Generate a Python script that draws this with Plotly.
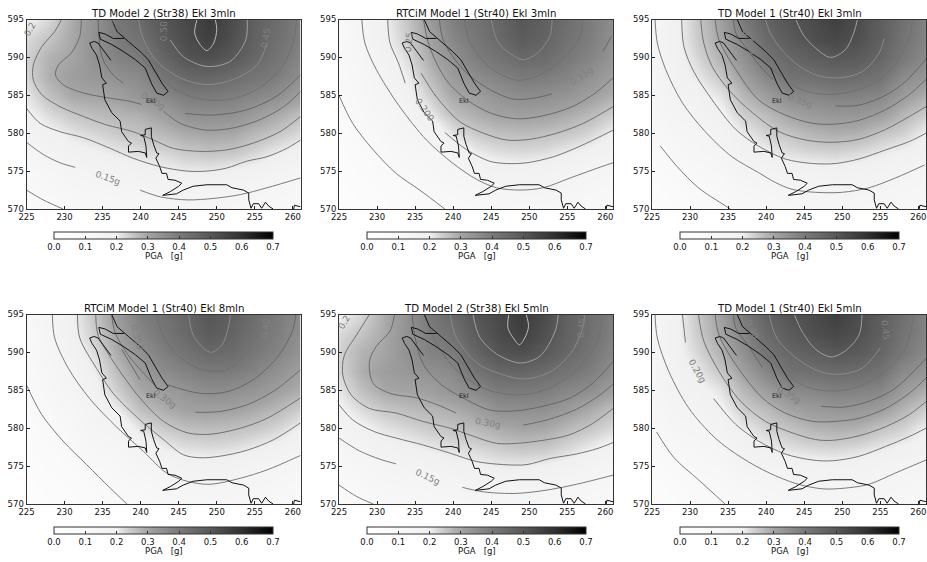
import plotly.graph_objects as go

W, H = 927, 562
TITLES = ["TD Model 2 (Str38) Ekl 3mln", "RTCiM Model 1 (Str40) Ekl 3mln", "TD Model 1 (Str40) Ekl 3mln",
          "RTCiM Model 1 (Str40) Ekl 8mln", "TD Model 2 (Str38) Ekl 5mln", "TD Model 1 (Str40) Ekl 5mln"]
GRID_X = [225, 228, 231, 234, 237, 240, 243, 246, 249, 252, 255, 258, 261]
GRID_Y = [570, 572.5, 575, 577.5, 580, 582.5, 585, 587.5, 590, 592.5, 595]

# PGA, one list per x column (bottom to top)
PGA_TD2 = [
 [.08,.10,.12,.14,.17,.19,.21,.23,.235,.225,.195],
 [.095,.12,.135,.165,.19,.225,.26,.285,.28,.255,.23],
 [.115,.135,.155,.185,.215,.25,.295,.315,.30,.295,.29],
 [.12,.14,.165,.195,.23,.265,.30,.33,.345,.345,.345],
 [.125,.145,.175,.21,.245,.275,.31,.345,.38,.395,.405],
 [.13,.155,.185,.22,.255,.285,.335,.365,.395,.425,.45],
 [.135,.16,.195,.23,.27,.31,.365,.415,.46,.49,.505],
 [.14,.165,.205,.245,.29,.345,.395,.455,.51,.53,.54],
 [.14,.165,.205,.255,.30,.35,.40,.46,.52,.56,.57],
 [.13,.155,.195,.25,.295,.345,.39,.44,.495,.52,.53],
 [.125,.145,.185,.23,.27,.32,.37,.415,.455,.47,.475],
 [.115,.135,.165,.205,.25,.29,.35,.39,.415,.43,.435],
 [.105,.125,.15,.185,.225,.26,.31,.35,.37,.385,.39]]
PGA_TD1 = [
 [.05,.065,.08,.095,.115,.13,.14,.145,.145,.145,.145],
 [.07,.085,.10,.12,.14,.155,.17,.18,.185,.19,.19],
 [.09,.105,.12,.135,.145,.165,.185,.21,.23,.245,.25],
 [.10,.115,.13,.15,.17,.19,.215,.25,.28,.30,.31],
 [.115,.13,.16,.18,.205,.24,.27,.31,.345,.375,.40],
 [.125,.14,.17,.20,.235,.265,.315,.37,.415,.445,.47],
 [.135,.15,.175,.22,.255,.30,.36,.42,.455,.49,.51],
 [.14,.155,.18,.23,.275,.32,.37,.43,.48,.52,.53],
 [.14,.155,.185,.235,.285,.33,.385,.445,.50,.54,.56],
 [.135,.155,.18,.225,.28,.33,.38,.44,.49,.52,.53],
 [.13,.15,.17,.21,.255,.315,.37,.42,.46,.48,.485],
 [.12,.14,.16,.195,.235,.275,.32,.36,.405,.42,.43],
 [.115,.13,.15,.18,.20,.24,.285,.335,.36,.375,.38]]
PGA_RTC = [
 [.04,.05,.06,.07,.08,.09,.10,.105,.11,.115,.115],
 [.055,.065,.08,.09,.105,.115,.125,.13,.14,.145,.15],
 [.07,.08,.095,.11,.125,.135,.15,.165,.18,.195,.20],
 [.085,.095,.115,.13,.15,.165,.19,.205,.225,.245,.255],
 [.095,.11,.125,.14,.16,.205,.24,.265,.29,.305,.32],
 [.105,.12,.145,.165,.215,.26,.295,.32,.345,.37,.39],
 [.115,.135,.155,.205,.245,.285,.315,.355,.39,.41,.42],
 [.125,.15,.18,.22,.26,.305,.34,.38,.42,.45,.46],
 [.13,.155,.18,.225,.265,.31,.355,.40,.45,.49,.50],
 [.13,.155,.175,.22,.26,.305,.35,.395,.44,.465,.475],
 [.12,.145,.165,.205,.25,.29,.335,.375,.405,.425,.435],
 [.11,.13,.15,.19,.23,.27,.31,.345,.375,.39,.395],
 [.10,.12,.14,.17,.20,.24,.285,.31,.335,.35,.355]]
PANEL_PGA = [PGA_TD2, PGA_RTC, PGA_TD1, PGA_RTC, PGA_TD2, PGA_TD1]

# coastline, km grid coordinates
COAST_A = [(236.2,595),(236.9,593.4),(238.4,592.1),(239.9,590.8),(241,589.7),(241.9,588.1),(242.8,586.6),(243.6,585.5),
           (243,585),(242.1,585.3),(241.4,586.6),(240.6,588.6),(239.3,589.7),(237.7,590.8),(236.2,591.7),(234.7,592.4),
           (234.5,593.3),(235.3,593.1),(236.4,592.5),(237.8,592.5)]
COAST_B = [(236.1,589.6),(235.6,590.3),(235,591.2),(234.4,591.9),(233.9,592.1),(233.3,591.9),(233.6,591.2),(234.2,590.3),
           (234.6,589),(234.9,587.3),(235.5,586.6),(235,586.4),(235.3,584.4),(236.2,582.7),(237.3,581.6),(237.5,580.2),
           (238.4,578.9),(238.8,578.7),(238.4,578.3),(238.4,577.5),(239.7,577.6),(240.6,577.4),(240.8,576.8)]
COAST_C = [(240.8,576.8),(240.7,578.3),(240.4,579.6),(240,579.7),(240.6,579.8),(240.6,580.5),(241.4,580.7),(241.4,579.6),
           (241.7,578.5),(242.1,577.4),(242.4,577.3),(242,576.7),(242.5,575.6),(242.8,574.7),(243.4,574.7),(243.6,573.9),
           (244.5,573.8),(245.4,573.4),(245,573),(243.9,572.3),(242.9,571.8),(244.7,572),(245.6,572.5),(246.9,573),
           (248.7,573.2),(251.3,573.2),(252,572.8),(253.5,572.5),(254.2,572.1),(254.2,571.2),(254.5,570.1),(254.8,570.7),
           (255.5,570.7),(255.9,570.1),(256.4,570.9),(256.8,570.4),(257.4,570)]
COAST_D = [(260.1,570),(260.2,570.5),(261,570.3)]
COASTS = [COAST_A, COAST_B, COAST_C, COAST_D]

# contours: (PGA level, points)
CONT_1 = [
 (.10,[(225,572.5),(227.2,571.2),(229.8,570)]),
 (.15,[(225,578.8),(227.2,577.2),(229.4,576.1),(231.4,575.5)]),
 (.15,[(239.9,572.5),(242.6,571.6),(246.1,571.2),(249.6,571.4),(253.1,571.9),(256.6,572.8),(261,574.1)]),
 (.20,[(225,583.3),(226.8,581.3),(229.4,580.2),(232.5,579.4),(236,578),(239,576.7),(242.5,575.6),(246.1,575),(248.7,575),(251.3,575.4),(253.9,576.3),(256.6,576.9),(259.2,578),(261,579.1)]),
 (.25,[(229.6,595),(228.7,593.4),(227,591.4),(225.9,589),(225.9,587),(227,585.1),(229.4,583.5),(232.5,582.2),(235.5,581.1),(239,580.2),(241.7,579.1),(244.3,578),(247.8,577.6),(251.3,577.8),(254.8,578.7),(258.3,580.2),(261,582.2)]),
 (.30,[(232.2,595),(232,592.8),(230.9,590.6),(229.2,589),(228.8,587.7),(229.8,586.4),(232.5,585.3),(235.5,584.7),(238.6,584.2),(240.1,583.8)]),
 (.30,[(243,582.9),(245.2,581.3),(248.7,580.4),(252.2,580.7),(255.7,581.8),(258.8,583.5),(261,585.5)]),
 (.35,[(234.4,595),(234.9,590.1),(236.2,587.9),(237.7,586.6)]),
 (.35,[(245.8,582.6),(249.6,582.4),(254,583.1),(257.9,584.9),(261,587.7)]),
 (.40,[(236.6,595),(238.2,592.1),(241,589),(243.9,586.2),(247.4,584.6),(251.3,584.4),(254.8,585.5),(257.9,587.9),(259.9,591.4),(260.5,595)]),
 (.45,[(239.7,595),(240.4,592.3),(242.1,589.5),(245.2,587.3),(248.7,586.4),(252.2,587.1),(255.3,589),(256.6,591.9)]),
 (.50,[(243.9,592.3),(245.6,590.1),(248.7,588.8),(251.8,589.5),(253.8,592.3),(254,595)]),
 (.55,[(247.4,595),(247.1,593.2),(247.8,591.7),(248.7,590.9),(249.6,591.9),(250,593.7),(249.8,595)]),
]
CONT_2 = [
 (.10,[(225,585),(226.8,581.3),(229.5,577.8),(232.5,574.7),(235.6,572.5),(238.9,570)]),
 (.15,[(228,595),(228.4,591.9),(229.9,588.4),(232.9,583.6),(236.5,579.1),(240,576),(243.1,573.9),(245.7,572.8),(248.8,572.5),(251.8,572.8),(255.4,574.1),(258.4,575.2),(261,576.1)]),
 (.20,[(231.4,595),(231.7,591.9),(232.8,589.3),(233.7,586.6)]),
 (.20,[(238.9,580.1),(241.8,577.8),(244.8,576.3),(247,576),(249.7,576.1),(253.2,576.9),(256.7,578.3),(261,580.4)]),
 (.25,[(235.8,587.9),(237.8,584.8),(240.9,581.5),(244,580),(247,579.1),(250.1,579.2),(253.6,580),(257.1,581.3),(261,583.5)]),
 (.30,[(236.1,595),(236.9,591.4),(239.1,587),(241.8,584.4),(244.8,582.7),(248.3,581.9),(251.8,582.3),(255.4,583.4),(258.4,585.1),(261,587.3)]),
 (.35,[(238.2,595),(238.7,592.3),(241.3,588.4),(244.4,586),(247.9,584.5),(251,584.7),(253,585.2)]),
 (.35,[(259.7,590.8),(260.8,592.8)]),
 (.40,[(241.5,595),(242.2,592),(244.8,588.7),(248.3,587),(251.4,587.7),(254.5,589.9),(256.7,592.8),(257,595)]),
 (.45,[(245,595),(245.9,592),(247.5,590.5),(249.2,589.7),(251,590.5),(252.7,592.8),(253,595)]),
]
CONT_3 = [
 (.10,[(226.1,578.3),(228.3,575.6),(231.1,572.8),(234.2,570.7),(235.3,570)]),
 (.15,[(225.4,595),(225.7,591.9),(226.8,588.4),(229,584),(232,580.2),(235.5,576.9),(239,574.8),(241.2,573.5),(243.4,572.6),(246.5,572.2),(250,572.2),(253.5,572.8),(257,574.1),(260.8,575.8)]),
 (.20,[(228.9,595),(229.2,591.4),(230.5,588.1),(232.9,584.4),(236,580.5),(239,578.3),(242.5,576.6),(246.1,576),(249.1,576),(252.2,576.6),(255.7,577.8),(258.8,578.9),(261,580)]),
 (.25,[(231.4,595),(231.8,591.9),(232.9,588.8),(235.1,585.7),(238.2,582.7),(241.7,580.2),(245.2,579.1),(248.7,578.8),(252.2,579.2),(255.7,580.5),(258.8,582.2),(261,583.5)]),
 (.30,[(233.3,595),(233.8,592.3),(236,588.4),(239,584.4),(242.5,582.4),(246.1,581.3),(249.1,581.2),(252.2,581.7),(255.7,583.1),(258.8,585.1),(261,587.1)]),
 (.35,[(235.7,595),(236,593.2),(237.5,591.1),(239.5,588.5),(240.9,587.1)]),
 (.35,[(249.1,583.6),(252.2,583.7),(255.7,585),(258.4,586.9),(261,589.8)]),
 (.40,[(239,590.1),(241.2,588.1),(244.3,585.9),(247.8,585.1),(251.3,585.5),(254.8,587),(257.5,589.9),(259,593.2),(259.2,595)]),
 (.45,[(239.9,595),(240.8,592.7),(243.4,589.6),(246.5,587.7),(249.6,587.3),(252.6,588.1),(254.8,590.5),(255.5,592.5)]),
 (.50,[(243.9,595),(245,592.8),(247,590.8),(248.5,590),(250.4,591),(251.5,593.2),(252,595)]),
]
CONT_4 = [
 (.10,[(225,585.7),(227,581.8),(229.8,578.3),(232.9,575.2),(236,572.1),(238.2,570)]),
 (.15,[(228.4,595),(228.7,591.9),(230.5,587.9),(233.3,583.9),(236.8,580.2),(240.4,576.9),(243.4,574.1),(246.1,573),(249.1,572.6),(253.1,573.4),(256.6,574.5),(261,576.4)]),
 (.20,[(231.7,595),(232,591.9),(234.2,587.9),(236.4,584.6),(239.9,581.1),(243,578.5),(245.6,576.5),(247.8,576.1),(250.4,576.3),(254,577.1),(257.5,578.5),(261,580.7)]),
 (.25,[(234.1,595),(234.4,592.3),(236.4,588.8),(239.9,584),(243,580.9),(246.1,579.4),(249.1,579.2),(253.1,580),(256.6,581.3),(261,584)]),
 (.30,[(236.2,595),(236.6,592.7),(238.4,589.6),(241.9,585.6)]),
 (.30,[(247.2,582.1),(250.4,582.2),(254,583.1),(257.5,584.9),(261,587.7)]),
 (.35,[(237.5,590.4),(239.9,586.4)]),
 (.35,[(243.6,585.7),(247.8,584.6),(251.3,584.8),(254.8,586.4),(257.9,589.3),(259.9,592.7),(260.4,595)]),
 (.40,[(242.1,595),(243,592.1),(245.2,589.3),(248.2,587.7),(251.3,587.7),(254,590.1),(255.5,592.7)]),
 (.45,[(246.3,595),(246.9,592.3),(248.2,590.6),(249.3,590),(250.7,591),(251.5,593.2),(251.8,595)]),
]
CONT_5 = [
 (.10,[(225,572.5),(227.3,571),(229.5,570)]),
 (.15,[(225,578.7),(227.7,577),(230.4,575.9),(232.5,575.3)]),
 (.15,[(241.2,572.2),(244,571.6),(248.4,571.4),(252.7,571.9),(256.2,572.6),(261,573.8)]),
 (.20,[(225,583.1),(226.8,581.1),(229.5,579.6),(232.5,578.7),(236,577.8),(239.6,576.7),(243.1,575.6),(246.6,575.2),(249.7,575.2),(252.7,576),(256.2,576.6),(258.9,577.3),(261,578.1)]),
 (.25,[(229,595),(227.3,592.3),(225.7,589.6),(225.5,587),(226.6,584.4),(229,582.6),(232.5,582),(236,580.9),(239.6,580),(242.2,579.1),(245.7,578),(248.3,578),(251.8,578.4),(255.2,579.1),(258.3,580.6),(261,582.6)]),
 (.30,[(232.3,595),(231.7,592.8),(229.9,590.8),(229,588.8),(229.5,585.9),(231.7,584.6),(235.2,584),(237.9,583.1),(240.4,582)]),
 (.30,[(249.2,580.4),(252.7,581.2),(256.2,582.5),(258.9,584.1),(261,585.8)]),
 (.35,[(234.6,595),(235,591.9),(236.1,588.4),(238.5,585.7),(241.3,584),(244.8,582.4),(248.3,582.3),(251.8,582.9),(255.4,584),(258.4,586),(261,588.8)]),
 (.40,[(236.3,595),(237.6,591.5),(240.4,587.7),(244.4,585.1),(248.8,584.4),(252.7,585.3),(256.2,587.7),(258.9,591.4),(259.6,595)]),
 (.45,[(239.6,595),(240.4,592),(243.1,588.6),(246.1,587.2),(249.2,586.5),(252.7,587.4),(255.4,589.8),(256.9,592.8),(257.3,595)]),
 (.50,[(242.6,595),(243.5,592),(245.7,589.8),(248.8,588.6),(251.4,589.5),(253.4,592.8),(253.8,595)]),
 (.55,[(247.3,595),(247.2,593.2),(247.9,591.9),(248.7,591),(249.4,591.9),(249.9,593.4),(249.6,595)]),
]
CONT_6 = [
 (.10,[(225.6,579.5),(227.9,576.1),(231.1,573.2),(234.6,570)]),
 (.15,[(225.4,595),(225.7,591.9),(227.2,587.5),(229.8,582.7),(233.3,578.7),(236.8,576.1),(240.4,574.1),(243.9,572.7),(247.4,572),(250.4,572.1),(253.5,572.6),(257,574.1),(261,575.8)]),
 (.20,[(229,595),(229.4,591.3)]),
 (.20,[(233.1,583.9),(236,580.5),(239,578.3),(242.5,576.6),(246.1,575.8),(248.7,575.7),(252.2,576.3),(255.7,577.6),(258.8,578.9),(261,580)]),
 (.25,[(231.1,595),(231.8,591.5),(233.8,587.5),(236.6,583.6),(239.9,580.9),(243.4,579.4),(246.5,578.5),(248.7,578.4),(252.2,579),(255.7,580.2),(258.8,581.8),(261,583.5)]),
 (.30,[(233.3,595),(233.8,592.3),(236,588.4),(239.5,584),(242.5,582),(246.1,580.9),(249.1,580.9),(252.2,581.3),(255.7,582.6),(258.8,584.6),(261,586.6)]),
 (.35,[(235.7,595),(236,593.2),(237.5,591.1),(239.5,588)]),
 (.35,[(247.2,582.9),(250.4,582.8),(253.9,583.7),(257,585.3),(261,589.2)]),
 (.40,[(239.3,590.6),(241.7,588),(245.2,585.5),(248.7,584.9),(252.2,585.5),(255.7,587.5),(258.3,590.6),(259.4,595)]),
 (.45,[(240.4,595),(241.4,591.9),(243.9,589.3),(247,587.5),(249.6,587.1),(252.6,587.9),(255,590.6)]),
 (.50,[(243.7,595),(244.7,592.8),(246.5,590.4),(248.5,589.4),(250.4,590.2),(252.2,592.3),(252.6,595)]),
]
PANEL_CONT = [CONT_1, CONT_2, CONT_3, CONT_4, CONT_5, CONT_6]

# inline contour labels: text, x, y, angle
LABELS_1 = [("0.15g",235.7,574.1,20),("0.30g",241.6,584.2,30),("0.50",243,593.4,-90),("0.2",225.5,593.7,-60),("0.45",256.4,592.6,-80),("0.3",236.4,594,-70)]
LABELS_2 = [("0.35g",256.9,587.5,-35),("0.200",236.3,583.1,55),("0.25",234.2,592,-85)]
LABELS_3 = [("0.35g",244.5,584.2,20),("0.40g",237.9,592,65)]
LABELS_4 = [("0.350",239.5,592,75),("0.30g",243.2,583.9,35),("0.40",256.4,593.2,-85)]
LABELS_5 = [("0.30g",244.6,580.7,10),("0.15g",236.7,573.6,25),("0.2",225.7,594,-60),("0.45",256.9,593.2,-85)]
LABELS_6 = [("0.20g",230.9,587.5,60),("0.35g",243,584.4,30),("0.40",238.2,593,65),("0.45",255.7,593,85)]
PANEL_LABELS = [LABELS_1, LABELS_2, LABELS_3, LABELS_4, LABELS_5, LABELS_6]

CONT_GREY = {.10:"#7a7a7a",.15:"#7a7a7a",.20:"#757575",.25:"#707070",.30:"#6a6a6a",.35:"#666666",.40:"#707070",.45:"#8a8a8a",.50:"#a0a0a0",.55:"#bbbbbb"}
COLORSCALE = [[0,"#ffffff"],[.1/.7,"#f9f9f9"],[.20/.7,"#f0f0f0"],[.24/.7,"#cecece"],[.3/.7,"#a4a4a4"],[.4/.7,"#7a7a7a"],[.5/.7,"#585858"],[.6/.7,"#303030"],[1,"#000000"]]

PX_LEFT = [26.5, 339, 652]
PX_TOP = [19.5, 314.5]
PW, PH = 274, 189.5
CB_LEFT = [54, 367, 680]
CB_TOP = [232, 527]
CB_W = 219
TEXT = "#111111"
FONT = "DejaVu Sans"

fig = go.Figure()
layout = dict(width=W, height=H, margin=dict(l=0, r=0, t=0, b=0, autoexpand=False), paper_bgcolor="white", plot_bgcolor="white",
              showlegend=False, font=dict(family=FONT, size=8.5, color=TEXT), annotations=[])
for i in range(6):
    col, row = i % 3, i // 3
    sfx = "" if i == 0 else str(i + 1)
    xa, ya = "x" + sfx, "y" + sfx
    left, top = PX_LEFT[col], PX_TOP[row]
    layout["xaxis" + sfx] = dict(domain=[left / W, (left + PW) / W], range=[225, 261], anchor=ya, tickvals=list(range(225, 261, 5)),
                                 ticks="inside", ticklen=3, tickcolor="#222", tickfont=dict(size=8.5, family=FONT, color=TEXT),
                                 showgrid=False, zeroline=False, showline=True, mirror=True, linecolor="#333", linewidth=1)
    layout["yaxis" + sfx] = dict(domain=[1 - (top + PH) / H, 1 - top / H], range=[570, 595], anchor=xa, tickvals=list(range(570, 600, 5)),
                                 ticks="inside", ticklen=3, tickcolor="#222", tickfont=dict(size=8.5, family=FONT, color=TEXT),
                                 showgrid=False, zeroline=False, showline=True, mirror=True, linecolor="#333", linewidth=1)
    z = [list(r) for r in zip(*PANEL_PGA[i])]
    fig.add_trace(go.Heatmap(x=GRID_X, y=GRID_Y, z=z, xaxis=xa, yaxis=ya, zmin=0, zmax=0.7, zsmooth="best",
                             colorscale=COLORSCALE, hoverinfo="skip",
                             colorbar=dict(orientation="h", x=CB_LEFT[col] / W, xanchor="left", y=1 - CB_TOP[row] / H, yanchor="top",
                                           len=CB_W, lenmode="pixels", thickness=7, thicknessmode="pixels", xpad=0, ypad=0,
                                           tickvals=[0, .1, .2, .3, .4, .5, .6, .7], ticktext=["0.0", "0.1", "0.2", "0.3", "0.4", "0.5", "0.6", "0.7"],
                                           ticks="inside", ticklen=3, tickcolor="#333", tickfont=dict(size=8.5, family=FONT, color=TEXT),
                                           outlinecolor="#333", outlinewidth=1)))
    layout["annotations"].append(dict(x=(CB_LEFT[col] + CB_W / 2) / W, y=1 - (CB_TOP[row] + 24) / H, xref="paper", yref="paper", text="PGA   [g]",
                                      showarrow=False, xanchor="center", yanchor="middle", font=dict(size=8.5, family=FONT, color=TEXT)))
    for level, pts in PANEL_CONT[i]:
        fig.add_trace(go.Scatter(x=[p[0] for p in pts], y=[p[1] for p in pts], xaxis=xa, yaxis=ya, mode="lines", hoverinfo="skip",
                                 line=dict(color=CONT_GREY[level], width=1, shape="spline", smoothing=0.9)))
    for c in COASTS:
        fig.add_trace(go.Scatter(x=[p[0] for p in c], y=[p[1] for p in c], xaxis=xa, yaxis=ya, mode="lines", hoverinfo="skip",
                                 line=dict(color="#111111", width=1)))
    for text, lx, ly, ang in PANEL_LABELS[i]:
        layout["annotations"].append(dict(x=lx, y=ly, xref=xa, yref=ya, text=text, showarrow=False, textangle=ang,
                                          font=dict(size=9, family=FONT, color="#808080")))
    layout["annotations"].append(dict(x=241.4, y=584.3, xref=xa, yref=ya, text="Ekl", showarrow=False,
                                      font=dict(size=6.5, family=FONT, color="#222222")))
    layout["annotations"].append(dict(x=(left + PW / 2) / W, y=1 - (top + 1) / H, xref="paper", yref="paper", text=TITLES[i], showarrow=False,
                                      xanchor="center", yanchor="bottom", font=dict(size=10.2, family=FONT, color=TEXT)))
fig.update_layout(**layout)
fig.write_html("out.html", config={"displayModeBar": False}, post_script="document.body.style.margin='0';")
